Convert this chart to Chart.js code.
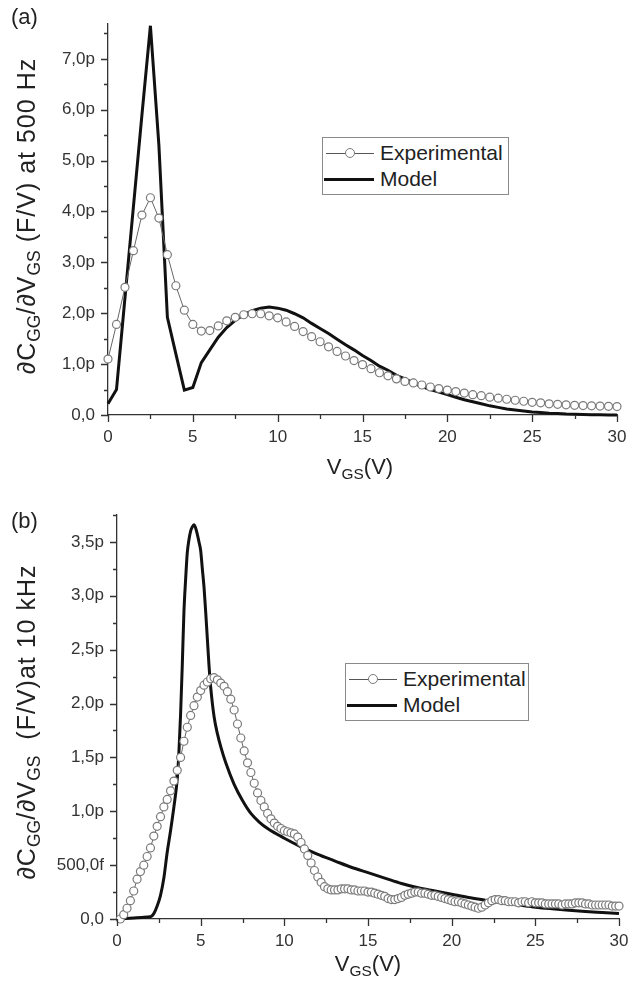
<!DOCTYPE html>
<html>
<head>
<meta charset="utf-8">
<script src="https://cdn.jsdelivr.net/npm/chart.js@4.4.1/dist/chart.umd.min.js"></script>
<style>
  body { margin: 0; background: #fff; width: 641px; height: 989px; position: relative; overflow: hidden;
         font-family: "Liberation Sans", Arial, sans-serif; color: #222; }
  canvas { position: absolute; left: 0; }
  .lbl { position: absolute; white-space: nowrap; }
  .ytitle { transform: translate(-50%, -50%) rotate(-90deg); font-size: 25px; letter-spacing: 1px; }
  .xtitle { transform: translate(-50%, -50%); font-size: 22px; }
  sub { font-size: 70%; vertical-align: -0.3em; line-height: 0; letter-spacing: 0; }
  .panel { font-size: 22px; }
  .legend { position: absolute; border: 1px solid #8a8a8a; background: #fff; font-size: 21px; }
  .row { position: absolute; left: 0; height: 24px; display: flex; align-items: center; }
  .sym { position: relative; width: 48px; height: 24px; margin-left: 3px; }
  .thin { position: absolute; left: 0; right: 0; top: 11.5px; border-top: 1px solid #555; }
  .thick { position: absolute; left: -2px; right: 0; top: 10.5px; border-top: 3px solid #111; }
  .dot { position: absolute; left: 19px; top: 7px; width: 8px; height: 8px; border: 1.2px solid #7a7a7a;
         border-radius: 50%; background: #fff; }
  .txt { margin-left: 6px; }
</style>
</head>
<body>
<canvas id="chartA" width="641" height="490" style="top:0"></canvas>
<canvas id="chartB" width="641" height="499" style="top:490px"></canvas>

<div class="lbl panel" style="left:11px; top:4px">(a)</div>
<div class="lbl panel" style="left:11px; top:508px">(b)</div>

<div class="lbl ytitle" style="left:26px; top:216px">&part;C<sub>GG</sub>/&part;V<sub>GS</sub> (F/V) at 500 Hz</div>
<div class="lbl ytitle" style="left:26px; top:722px">&part;C<sub>GG</sub>/&part;V<sub>GS</sub>&nbsp;&nbsp;(F/V)at 10 kHz</div>
<div class="lbl xtitle" style="left:360px; top:467px">V<sub>GS</sub>(V)</div>
<div class="lbl xtitle" style="left:368px; top:964px">V<sub>GS</sub>(V)</div>

<div class="legend" style="left:322px; top:137px; width:185px; height:56px">
  <div class="row" style="top:3px"><div class="sym"><div class="thin"></div><div class="dot"></div></div><span class="txt">Experimental</span></div>
  <div class="row" style="top:29px"><div class="sym"><div class="thick"></div></div><span class="txt">Model</span></div>
</div>
<div class="legend" style="left:345px; top:663px; width:182px; height:56px">
  <div class="row" style="top:3px"><div class="sym"><div class="thin"></div><div class="dot"></div></div><span class="txt">Experimental</span></div>
  <div class="row" style="top:29px"><div class="sym"><div class="thick"></div></div><span class="txt">Model</span></div>
</div>

<script>
// ---------- panel (a), 500 Hz : V_GS in V, dCgg/dVgs in pF/V ----------
const vgsA = [0, 0.5, 1, 1.5, 2, 2.5, 3, 3.5, 4, 4.5, 5, 5.5, 6, 6.5, 7, 7.5, 8, 8.5, 9, 9.5,
  10, 10.5, 11, 11.5, 12, 12.5, 13, 13.5, 14, 14.5, 15, 15.5, 16, 16.5, 17, 17.5, 18, 18.5, 19, 19.5,
  20, 20.5, 21, 21.5, 22, 22.5, 23, 23.5, 24, 24.5, 25, 25.5, 26, 26.5, 27, 27.5, 28, 28.5, 29, 29.5, 30]
const expA = [1.10, 1.78, 2.51, 3.23, 3.93, 4.27, 3.87, 3.15, 2.54, 2.06, 1.78, 1.65, 1.66, 1.75, 1.85, 1.92, 1.97, 1.99, 1.99, 1.95,
  1.91, 1.83, 1.74, 1.64, 1.54, 1.44, 1.34, 1.25, 1.16, 1.07, 0.99, 0.91, 0.83, 0.77, 0.71, 0.66, 0.63, 0.59, 0.55, 0.52,
  0.49, 0.46, 0.43, 0.40, 0.38, 0.35, 0.33, 0.31, 0.29, 0.27, 0.25, 0.24, 0.22, 0.21, 0.20, 0.19, 0.185, 0.18, 0.175, 0.17, 0.165]
const modelA = [0.22, 0.50, 2.3, 4.1, 5.9, 7.65, 5.3, 1.92, 1.2, 0.49, 0.54, 1.03, 1.28, 1.53, 1.72, 1.86, 1.97, 2.05, 2.10, 2.12,
  2.10, 2.06, 1.99, 1.91, 1.80, 1.70, 1.60, 1.49, 1.38, 1.28, 1.17, 1.07, 0.96, 0.88, 0.78, 0.71, 0.63, 0.56, 0.50, 0.45,
  0.40, 0.35, 0.30, 0.26, 0.22, 0.18, 0.15, 0.12, 0.10, 0.08, 0.06, 0.05, 0.035, 0.03, 0.02, 0.015, 0.01, 0.005, 0.003, 0.002, 0.001]

// ---------- panel (b), 10 kHz ----------
const vgsExpB = [0.2, 0.4, 0.6, 0.8, 1.0, 1.2, 1.4, 1.6, 1.8, 2.0, 2.2, 2.4, 2.6, 2.8, 3.0, 3.2, 3.4, 3.6, 3.8, 4.0,
  4.2, 4.4, 4.6, 4.8, 5.0, 5.2, 5.4, 5.6, 5.8, 6.0, 6.2, 6.4, 6.6, 6.8, 7.0, 7.2, 7.4, 7.6, 7.8, 8.0,
  8.2, 8.4, 8.6, 8.8, 9.0, 9.2, 9.4, 9.6, 9.8, 10.0, 10.2, 10.4, 10.6, 10.8, 11.0, 11.2, 11.4, 11.6, 11.8, 12.0,
  12.2, 12.4, 12.6, 12.8, 13.0, 13.2, 13.4, 13.6, 13.8, 14.0, 14.2, 14.4, 14.6, 14.8, 15.0, 15.2, 15.4, 15.6, 15.8, 16.0,
  16.2, 16.4, 16.6, 16.8, 17.0, 17.2, 17.4, 17.6, 17.8, 18.0, 18.2, 18.4, 18.6, 18.8, 19.0, 19.2, 19.4, 19.6, 19.8, 20.0,
  20.2, 20.4, 20.6, 20.8, 21.0, 21.2, 21.4, 21.6, 21.8, 22.0, 22.2, 22.4, 22.6, 22.8, 23.0, 23.2, 23.4, 23.6, 23.8, 24.0,
  24.2, 24.4, 24.6, 24.8, 25.0, 25.2, 25.4, 25.6, 25.8, 26.0, 26.2, 26.4, 26.6, 26.8, 27.0, 27.2, 27.4, 27.6, 27.8, 28.0,
  28.2, 28.4, 28.6, 28.8, 29.0, 29.2, 29.4, 29.6, 29.8, 30.0]
const expB = [0.00, 0.04, 0.10, 0.17, 0.26, 0.37, 0.44, 0.50, 0.58, 0.66, 0.77, 0.86, 0.95, 1.04, 1.11, 1.19, 1.28, 1.38, 1.50, 1.65,
  1.78, 1.89, 1.98, 2.06, 2.12, 2.17, 2.20, 2.23, 2.24, 2.22, 2.19, 2.16, 2.11, 2.04, 1.94, 1.81, 1.68, 1.56, 1.45, 1.36,
  1.26, 1.17, 1.10, 1.04, 0.98, 0.93, 0.89, 0.86, 0.84, 0.82, 0.81, 0.80, 0.79, 0.76, 0.71, 0.65, 0.59, 0.52, 0.45, 0.39,
  0.34, 0.30, 0.28, 0.27, 0.27, 0.27, 0.28, 0.28, 0.28, 0.27, 0.27, 0.26, 0.26, 0.26, 0.25, 0.25, 0.24, 0.23, 0.22, 0.21,
  0.19, 0.18, 0.18, 0.19, 0.20, 0.22, 0.23, 0.24, 0.25, 0.25, 0.24, 0.24, 0.23, 0.22, 0.22, 0.21, 0.20, 0.19, 0.18, 0.17,
  0.16, 0.16, 0.15, 0.14, 0.13, 0.12, 0.11, 0.10, 0.11, 0.13, 0.15, 0.17, 0.18, 0.18, 0.17, 0.17, 0.16, 0.16, 0.16, 0.15,
  0.16, 0.16, 0.15, 0.16, 0.15, 0.15, 0.15, 0.14, 0.14, 0.14, 0.14, 0.14, 0.13, 0.14, 0.14, 0.14, 0.15, 0.15, 0.15, 0.14,
  0.14, 0.13, 0.13, 0.13, 0.13, 0.13, 0.13, 0.12, 0.12, 0.12]
const vgsModelB = [0, 0.5, 1.0, 1.5, 2.0, 2.2, 2.4, 2.6, 2.8, 3.0, 3.2, 3.4, 3.6, 3.7, 3.8, 3.9, 4.0, 4.1, 4.2, 4.3,
  4.4, 4.5, 4.6, 4.7, 4.8, 4.9, 5.0, 5.1, 5.2, 5.3, 5.4, 5.5, 5.6, 5.8, 6.0, 6.2, 6.5, 7.0, 7.5, 8.0,
  8.5, 9, 10, 11, 12, 13, 14, 15, 16, 17, 18, 19, 20, 21, 22, 23, 24, 25, 26, 27, 28, 29, 30]
const modelB = [0.0, 0.005, 0.01, 0.015, 0.02, 0.05, 0.12, 0.22, 0.38, 0.62, 0.82, 1.04, 1.30, 1.55, 1.90, 2.35, 2.85, 3.15, 3.40, 3.52,
  3.60, 3.64, 3.66, 3.63, 3.57, 3.50, 3.42, 3.25, 3.08, 2.85, 2.60, 2.35, 2.15, 1.88, 1.72, 1.60, 1.45, 1.25, 1.10, 0.98,
  0.90, 0.84, 0.75, 0.67, 0.60, 0.54, 0.48, 0.43, 0.38, 0.33, 0.29, 0.26, 0.23, 0.20, 0.175, 0.15, 0.13, 0.11, 0.095, 0.082, 0.07, 0.06, 0.05]

const pts = (xs, ys) => xs.map((v, i) => ({x: v, y: ys[i]}))
const fmtA = v => v % 1 ? '' : (v === 0 ? '0,0' : v.toFixed(1).replace('.', ',') + 'p')
const fmtB = v => {
  if (v % 0.5) return ''
  if (v === 0) return '0,0'
  if (v === 0.5) return '500,0f'
  return v.toFixed(1).replace('.', ',') + 'p'
}

// short ticks for minor steps, longer for labelled ones
const tickMarks = {
  id: 'tickMarks',
  afterDraw(chart) {
    const ctx = chart.ctx, xs = chart.scales.x, ys = chart.scales.y
    ctx.save()
    ctx.strokeStyle = '#333'
    ctx.lineWidth = 1.3
    ctx.beginPath()
    xs.ticks.forEach(t => {
      const p = Math.round(xs.getPixelForValue(t.value)) + 0.5
      ctx.moveTo(p, xs.top); ctx.lineTo(p, xs.top + (t.label === '' ? 4 : 7))
    })
    ys.ticks.forEach(t => {
      const p = Math.round(ys.getPixelForValue(t.value)) + 0.5
      ctx.moveTo(ys.right, p); ctx.lineTo(ys.right - (t.label === '' ? 4 : 7), p)
    })
    ctx.stroke()
    ctx.restore()
  }
}

const makeChart = (id, datasets, ymax, ystep, fmt, padding) => new Chart(document.getElementById(id), {
  type: 'line',
  data: { datasets: datasets },
  plugins: [tickMarks],
  options: {
    responsive: false,
    animation: false,
    layout: { padding: padding },
    plugins: { legend: { display: false }, tooltip: { enabled: false } },
    scales: {
      x: {
        type: 'linear', min: 0, max: 30,
        grid: { display: false, drawTicks: false },
        border: { display: true, color: '#333', width: 1.3 },
        ticks: { stepSize: 2.5, autoSkip: false, maxRotation: 0, padding: 12, color: '#333',
                 font: { family: 'Liberation Sans', size: 17 }, callback: v => v % 5 ? '' : v },
        afterFit: s => { s.height = 40 }
      },
      y: {
        min: 0, max: ymax,
        grid: { display: false, drawTicks: false },
        border: { display: true, color: '#333', width: 1.3 },
        ticks: { stepSize: ystep, includeBounds: false, autoSkip: false, padding: 13, color: '#333',
                 font: { family: 'Liberation Sans', size: 17 }, callback: fmt },
        afterFit: s => { s.width = 70 }
      }
    }
  }
})

const expStyle = {
  label: 'Experimental', borderColor: '#666', borderWidth: 1, tension: 0, clip: false,
  pointRadius: 4, pointBackgroundColor: '#fff', pointBorderColor: '#7a7a7a', pointBorderWidth: 1.2
}
const modelStyle = { label: 'Model', borderColor: '#111', borderWidth: 3, pointRadius: 0, clip: false }

makeChart('chartA', [
  { ...expStyle, data: pts(vgsA, expA) },
  { ...modelStyle, tension: 0, data: pts(vgsA, modelA) }
], 7.7, 0.5, fmtA, { left: 38, right: 24, top: 5, bottom: 35 })

makeChart('chartB', [
  { ...expStyle, data: pts(vgsExpB, expB) },
  { ...modelStyle, cubicInterpolationMode: 'monotone', data: pts(vgsModelB, modelB) }
], 3.75, 0.25, fmtB, { left: 47, right: 22, top: 25, bottom: 30 })
</script>
</body>
</html>
